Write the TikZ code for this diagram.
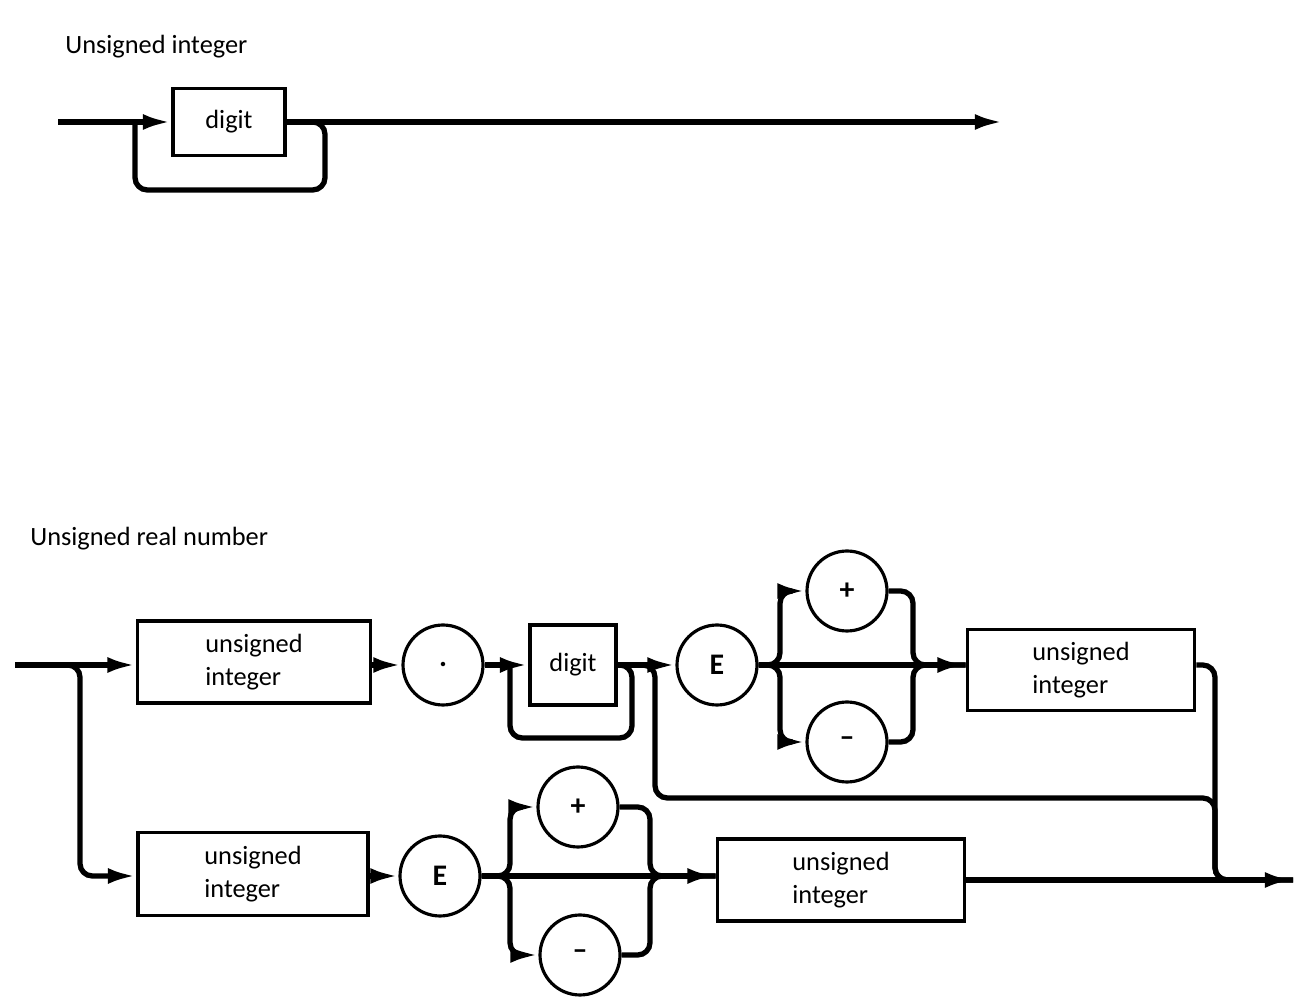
\documentclass[tikz,border=0pt]{standalone}
\usepackage{fontspec}
\setmainfont{Carlito}
\usetikzlibrary{positioning,arrows.meta}
\tikzset{nbox/.style={draw,line width=2.2pt,inner sep=0pt,align=left},
	 nsym/.style={circle,draw,line width=1.8pt,inner sep=0pt,minimum size=1.6cm,
	   font=\fontsize{17pt}{18pt}\selectfont\bfseries},
	 flow/.style={line width=3pt,rounded corners=7pt},
	 into/.style={flow,-{Latex[length=16pt,width=9pt]}},
	 title/.style={anchor=base west,inner sep=0pt}
	 }

\begin{document}
\begin{tikzpicture}[x=0.02cm,y=-0.02cm,font=\fontsize{15pt}{18.8pt}\selectfont] % syntax charts
	\useasboundingbox (0,0) rectangle (1303,1006);
	% unsigned integer
	\node[title] (t1) at (65,54) {Unsigned integer};
	\node[nbox,minimum width=2.24cm,minimum height=1.34cm] (d1) at (229,122) {digit};
	\coordinate (s1) at (58,122); \coordinate (e1) at (1003,122);
	\coordinate (l1) at (325,190); \coordinate (l2) at (135,122);
	\draw[into] (s1) to (d1);
	\draw[into] (d1.east) to (e1);
	\draw[flow] (d1.east) -| (l1) -| (l2);
	% unsigned real number
	\node[title] (t2) at (30,546) {Unsigned real number};
	\node[nbox,minimum width=4.66cm,minimum height=1.64cm] (u1) at (254,662) {unsigned\\integer};
	\node[nsym] (c1) at (443,665) {.};
	\node[nbox,minimum width=1.72cm,minimum height=1.6cm] (d2) at (573,665) {digit};
	\node[nsym] (e2) at (717,665) {E};
	\node[nsym] (p1) at (847,591) {+};
	\node[nsym] (m1) at (847,742) {--};
	\node[nbox,minimum width=4.54cm,minimum height=1.62cm] (u2) at (1081,670) {unsigned\\integer};
	\node[nbox,minimum width=4.6cm,minimum height=1.66cm] (u3) at (253,874) {unsigned\\integer};
	\node[nsym] (e3) at (440,876) {E};
	\node[nsym] (p2) at (578,807) {+};
	\node[nsym] (m2) at (580,955) {--};
	\node[nbox,minimum width=4.94cm,minimum height=1.64cm] (u4) at (841,880) {unsigned\\integer};
	\coordinate (s2) at (15,665); \coordinate (b1) at (80,876);
	\coordinate (l3) at (632,738); \coordinate (l4) at (510,665);
	\coordinate (b2) at (655,798); \coordinate (r1) at (1215,880);
	\coordinate (j1) at (780,665); \coordinate (j2) at (913,665);
	\coordinate (j3) at (510,876); \coordinate (j4) at (650,876);
	\coordinate (e4) at (1293,880);
	\draw[into] (s2) to (u1.west |- s2);
	\draw[into] (s2) -| (b1) to (u3.west |- b1);
	\draw[into] (u1.east |- c1) to (c1);
	\draw[into] (c1) to (d2);
	\draw[flow] (d2.east) -| (l3) -| (l4);
	\draw[into] (d2) to (e2);
	\draw[flow] (d2.east) -| (b2) -| (r1) to (e4);
	\draw[into] (e2) to (u2.west |- e2);
	\draw[into] (e2.east) to (j1) |- (p1);
	\draw[into] (e2.east) to (j1) |- (m1);
	\draw[flow] (p1.east) -| (j2) to (u2.west |- e2);
	\draw[flow] (m1.east) -| (j2) to (u2.west |- e2);
	\draw[flow] (u2.east |- e2) -| (r1) to (e4);
	\draw[into] (u3.east |- e3) to (e3);
	\draw[into] (e3) to (u4.west |- e3);
	\draw[into] (e3.east) to (j3) |- (p2);
	\draw[into] (e3.east) to (j3) |- (m2);
	\draw[flow] (p2.east) -| (j4) to (u4.west |- e3);
	\draw[flow] (m2.east) -| (j4) to (u4.west |- e3);
	\draw[into] (u4.east |- e4) to (e4);
\end{tikzpicture}
\end{document}
